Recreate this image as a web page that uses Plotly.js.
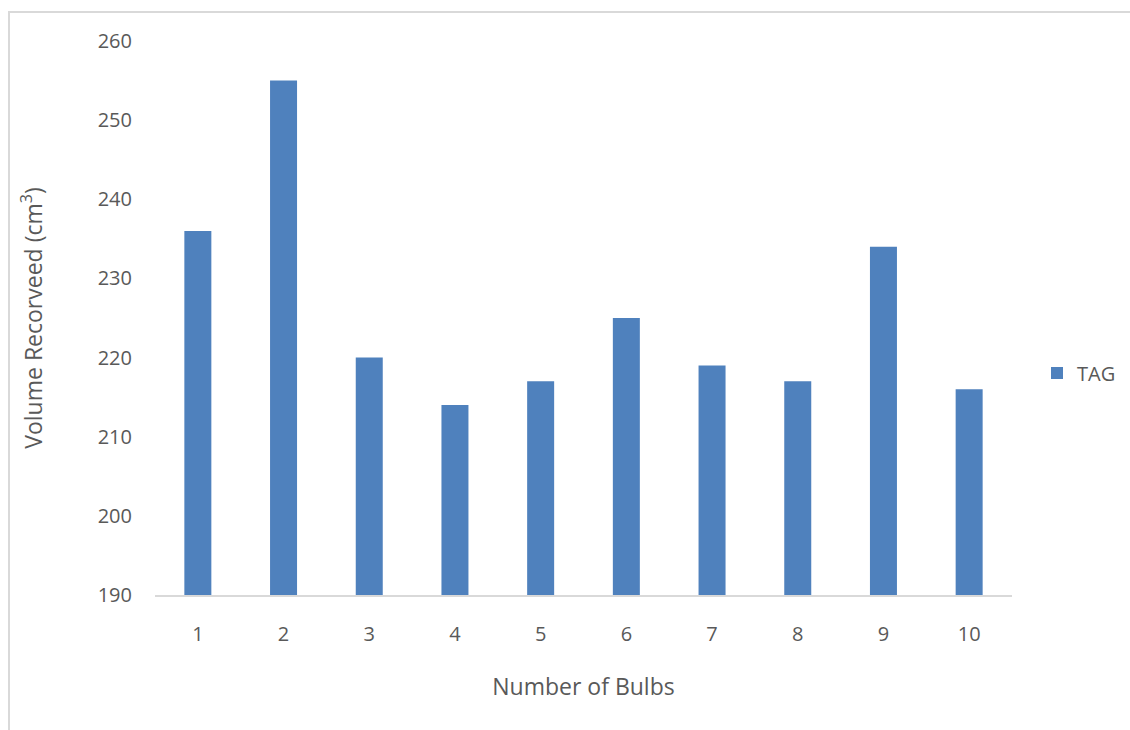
<!DOCTYPE html>
<html>
<head>
<meta charset="utf-8">
<script src="https://cdn.plot.ly/plotly-3.0.1.min.js"></script>
<style>
html,body{margin:0;padding:0;background:#fff;}
#wrap{position:relative;width:1130px;height:730px;overflow:hidden;}
#plot{position:absolute;left:0;top:0;width:1130px;height:730px;}
#frame{position:absolute;left:8px;top:11px;width:1140px;height:740px;border:2px solid #d9d9d9;pointer-events:none;}
</style>
</head>
<body>
<div id="wrap"><div id="plot"></div><div id="frame"></div></div>
<script>
const categories = ["1","2","3","4","5","6","7","8","9","10"];
const tagValues = [236, 255, 220, 214, 217, 225, 219, 217, 234, 216];
const yTicks = [190, 200, 210, 220, 230, 240, 250, 260];

const font = "'Open Sans', 'Noto Sans', sans-serif";
const textColor = "#595959";

Plotly.newPlot("plot", [{
  type: "bar",
  name: "TAG",
  x: categories,
  y: tagValues,
  marker: {color: "#4f81bd"},
  hoverinfo: "x+y"
}], {
  width: 1130,
  height: 730,
  margin: {l: 155, r: 118, t: 41, b: 135, autoexpand: false},
  paper_bgcolor: "rgba(0,0,0,0)",
  plot_bgcolor: "#fff",
  bargap: 0.685,
  showlegend: true,
  legend: {xref: "container", yref: "container", x: 1037/1130, y: 1 - 373/730,
    xanchor: "left", yanchor: "middle",
    font: {family: font, size: 20, color: textColor}, itemwidth: 30},
  xaxis: {
    type: "category",
    showline: true, linecolor: "#d9d9d9", linewidth: 2,
    ticks: "", showgrid: false, zeroline: false,
    tickfont: {family: font, size: 20, color: textColor},
    ticklabelstandoff: 20,
    title: {text: "Number of Bulbs", font: {family: font, size: 23, color: textColor}, standoff: 33}
  },
  yaxis: {
    range: [190, 260],
    tickvals: yTicks,
    ticktext: yTicks.map(String),
    showline: false, showgrid: false, zeroline: false, ticks: "",
    tickfont: {family: font, size: 20, color: textColor},
    ticklabelstandoff: 22,
    title: {text: "Volume Recorveed (cm<sup>3</sup>)", font: {family: font, size: 23, color: textColor}, standoff: 48}
  }
}, {displayModeBar: false, staticPlot: true});
</script>
</body>
</html>
